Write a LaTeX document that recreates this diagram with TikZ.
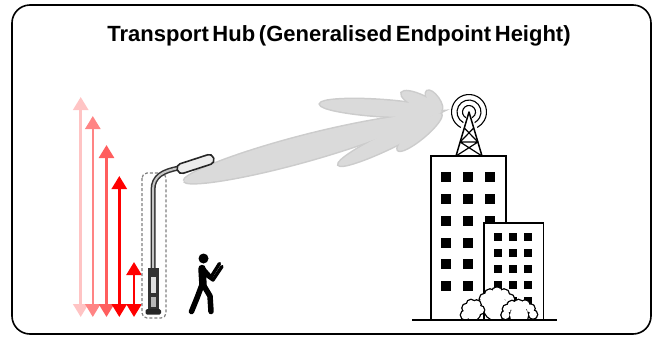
\documentclass[tikz,border=0pt]{standalone}
\usepackage{fontspec}
\setmainfont{Liberation Sans}[WordSpace=0.6]
\usetikzlibrary{arrows.meta}
\definecolor{beamfill}{HTML}{DADADA}
\definecolor{beamedge}{HTML}{CCCCCC}
\definecolor{lvlA}{HTML}{FFC4C4}
\definecolor{lvlB}{HTML}{FF8484}
\definecolor{lvlC}{HTML}{FF5E5E}
\definecolor{lvlD}{HTML}{FF0000}
\tikzset{
  harrow/.style={line width=2.6pt,
    {Triangle[width=15pt,length=13pt]}-{Triangle[width=15pt,length=13pt]}},
  wall/.style={line width=1.7pt, fill=white},
  lobe/.style={fill=beamfill},
  lobeedge/.style={draw=beamedge, line width=3pt},
  limb/.style={line cap=round, line join=round}
}
% the beam lobes, drawn once as outline and once as fill
\newcommand\lobeshapes[1]{%
  \begin{scope}[shift={(184,181)}, rotate=15.1]
    \path[#1] (0,0) .. controls (1,-11) and (150,-22) .. (267,0)
                    .. controls (150,22) and (1,11) .. (0,0);
  \end{scope}
  \path[#1, rotate around={-3.8:(380,108)}] (380,108) ellipse [x radius=60, y radius=8];
  \path[#1, rotate around={25.7:(389,140.5)}] (389,140.5) ellipse [x radius=56, y radius=7.5];
  \path[#1, rotate around={39.9:(419.5,132)}] (419.5,132) ellipse [x radius=28, y radius=6.5];
  \path[#1, rotate around={-26:(421.5,102.5)}] (421.5,102.5) ellipse [x radius=22, y radius=6.5];
  \path[#1, rotate around={-55:(434,101)}] (434,101) ellipse [x radius=12, y radius=5];
}
\begin{document}
\begin{tikzpicture}[x=1pt,y=-1pt]
\useasboundingbox (0,0) rectangle (655,338);

% outer frame and title
\draw[line width=1.6pt, rounded corners=18pt] (12,5) rectangle (651,334);
\node[font=\fontsize{22}{24}\selectfont\bfseries] (title) at (339,36)
  {Transport Hub (Generalised Endpoint Height)};

% height-range arrows
\foreach \x/\t/\c in {80.7/97/lvlA, 92.8/116/lvlB, 106.5/145/lvlC, 119.3/176/lvlD, 134/262/lvlD}
  \draw[harrow, \c] (\x,317) -- (\x,\t);

% radiation beam from the street lamp to the mast
\lobeshapes{lobeedge}
\lobeshapes{lobe}

% street lamp
\draw[gray, line width=1.2pt, dash pattern=on 3pt off 2pt, rounded corners=5pt]
  (142,173) rectangle (166,318);
\draw[black!80, line width=5pt] (153,270) -- (153,190) .. controls (153,176) and (163,171) .. (179,168);
\draw[gray!45, line width=2pt] (153,270) -- (153,190) .. controls (153,176) and (163,171) .. (179,168);
\draw[black!85, line width=1.6pt, fill=gray!15, rounded corners=4.5pt, rotate around={18:(195.5,164)}]
  (176.5,159) rectangle (214.5,169);
\fill[black!80] (148,268) rectangle (158.5,312);
\fill[gray!25] (150.5,277) rectangle (156,293);
\fill[gray!55] (150.5,297) rectangle (156,307);
\fill[black!85, rounded corners=1.5pt] (145.5,309) rectangle (161,314.5);

% pedestrian with a phone
\fill (203.5,258.5) circle (5);
\draw[line width=7.5pt, line cap=round] (202,268.5) -- (203,285);
\draw[limb, line width=3.4pt] (204,269) -- (211,277) -- (219.5,263.5);
\draw[limb, line width=3.4pt] (203,273) -- (213,280) -- (222,266.5);
\draw[limb, line width=5.5pt] (201.5,286) -- (197,298) -- (191.5,311.5);
\draw[limb, line width=5.5pt] (204,286) -- (210,296) -- (211,311.5);

% buildings
\draw[wall] (431,320) rectangle (506,156);
\foreach \x in {445.7,467.7,490}
  \foreach \y in {177.3,199,220.7,242.7,264.3,286}
    \fill (\x-5,\y-5) rectangle ++(10,10);
\draw[wall] (484,320) rectangle (543.5,223.3);
\foreach \x in {497.7,513.3,528.3}
  \foreach \y in {237.3,253.3,269,285,300.7}
    \fill (\x-4,\y-4) rectangle ++(8,8);

% mast with radio waves
\draw[line width=1.5pt, line join=round] (456,156) -- (469,112) -- (482,156);
\draw[line width=1.2pt] (460.1,142) -- (477.9,142)
  (464.3,128) -- (477.9,142) (473.7,128) -- (460.1,142)
  (460.1,142) -- (482,156) (477.9,142) -- (456,156);
\foreach \r in {6.5,12,17.5}
  \draw[line width=1.1pt] (469,112) ++(118:\r) arc[start angle=118, end angle=422, radius=\r];

% shrubs in front of the buildings
\begin{scope}
  \clip (400,250) rectangle (560,320);
  \def\bushA{(481,305) circle (5) (484.5,298.5) circle (4.5) (490,294.5) circle (5)
             (497,292.5) circle (5) (504,294.5) circle (5) (509.5,299) circle (4.5)
             (512,306) circle (4) (496,308) circle (12)}
  \def\bushB{(465.5,315) circle (4.5) (466.5,308) circle (4) (471,304) circle (4)
             (476.5,304.5) circle (4) (480,310) circle (4) (473,313) circle (7)}
  \def\bushC{(505.5,315) circle (4) (507,309) circle (4) (512,305.5) circle (4.5)
             (518.5,304.5) circle (4.5) (525,305) circle (4.5) (530.5,308.5) circle (4)
             (533,314.5) circle (4) (519,315) circle (9)}
  \draw[line width=2.6pt] \bushA; \fill[white] \bushA;
  \draw[line width=2.6pt] \bushB; \fill[white] \bushB;
  \draw[line width=2.6pt] \bushC; \fill[white] \bushC;
\end{scope}
\draw[line width=1.9pt] (412,320) -- (557,320);

\end{tikzpicture}
\end{document}
